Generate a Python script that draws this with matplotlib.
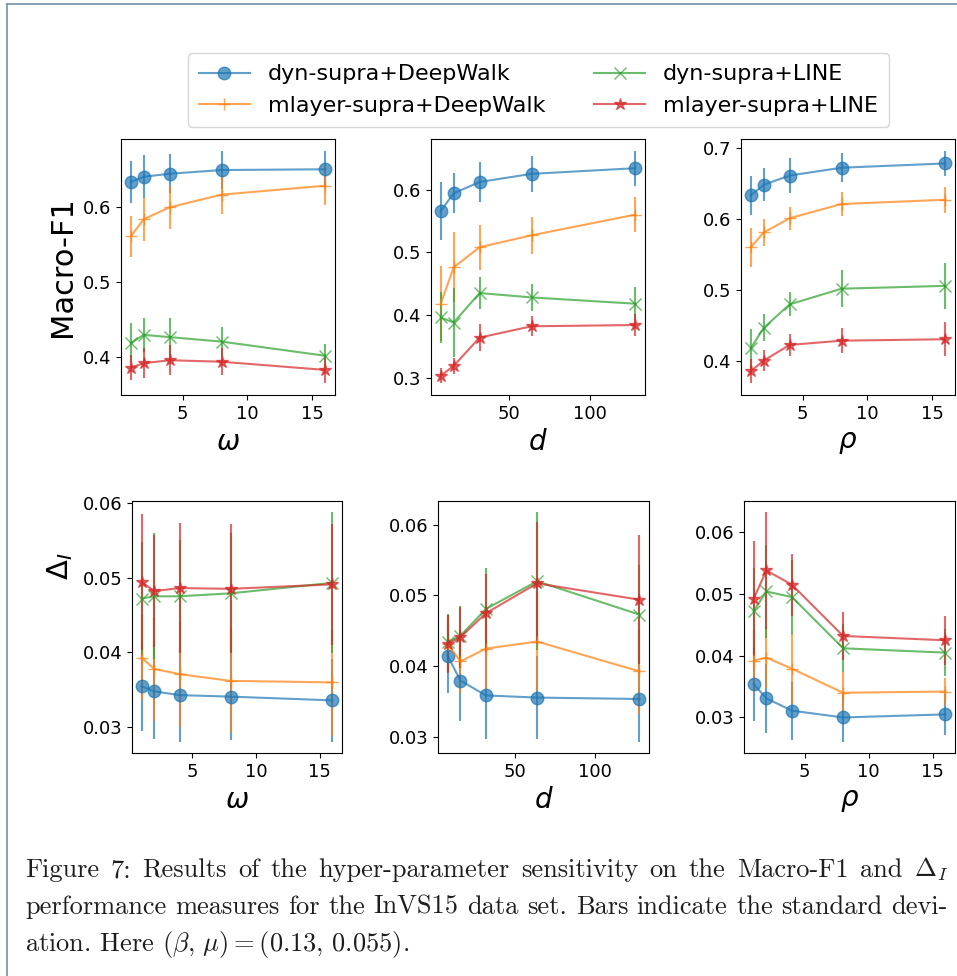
import numpy as np
import matplotlib.pyplot as plt
from matplotlib.lines import Line2D
from matplotlib.ticker import MultipleLocator

# ------------------------------------------------------------
# data
# ------------------------------------------------------------
methods = ["dyn-supra+DeepWalk", "mlayer-supra+DeepWalk", "dyn-supra+LINE", "mlayer-supra+LINE"]
colors = ["tab:blue", "tab:orange", "tab:green", "tab:red"]
markers = ["o", "+", "x", "*"]

omega = [1, 2, 4, 8, 16]
dim = [8, 16, 32, 64, 128]
rho = [1, 2, 4, 8, 16]

# Macro-F1, rows follow `methods`
f1_omega_mean = [
    [0.634, 0.641, 0.645, 0.650, 0.651],
    [0.561, 0.584, 0.600, 0.617, 0.629],
    [0.418, 0.429, 0.426, 0.420, 0.401],
    [0.385, 0.391, 0.395, 0.393, 0.382],
]
f1_omega_std = [
    [0.028, 0.029, 0.026, 0.025, 0.025],
    [0.027, 0.029, 0.029, 0.026, 0.026],
    [0.027, 0.023, 0.025, 0.020, 0.016],
    [0.017, 0.020, 0.020, 0.018, 0.018],
]
f1_dim_mean = [
    [0.566, 0.594, 0.612, 0.625, 0.634],
    [0.418, 0.476, 0.508, 0.527, 0.560],
    [0.396, 0.388, 0.435, 0.428, 0.418],
    [0.303, 0.319, 0.364, 0.382, 0.384],
]
f1_dim_std = [
    [0.046, 0.032, 0.032, 0.029, 0.028],
    [0.060, 0.056, 0.036, 0.030, 0.028],
    [0.041, 0.055, 0.025, 0.022, 0.026],
    [0.012, 0.013, 0.021, 0.016, 0.017],
]
f1_rho_mean = [
    [0.633, 0.648, 0.661, 0.672, 0.678],
    [0.560, 0.581, 0.601, 0.621, 0.627],
    [0.418, 0.447, 0.480, 0.502, 0.506],
    [0.386, 0.401, 0.423, 0.429, 0.431],
]
f1_rho_std = [
    [0.028, 0.023, 0.024, 0.020, 0.018],
    [0.027, 0.019, 0.016, 0.017, 0.018],
    [0.027, 0.019, 0.017, 0.026, 0.032],
    [0.017, 0.015, 0.015, 0.018, 0.024],
]

# Delta_I
di_omega_mean = [
    [0.0355, 0.0348, 0.0343, 0.0341, 0.0336],
    [0.0393, 0.0378, 0.0371, 0.0362, 0.0360],
    [0.0472, 0.0475, 0.0475, 0.0479, 0.0493],
    [0.0494, 0.0482, 0.0486, 0.0485, 0.0491],
]
di_omega_std = [
    [0.0060, 0.0063, 0.0062, 0.0058, 0.0055],
    [0.0057, 0.0070, 0.0070, 0.0070, 0.0071],
    [0.0075, 0.0084, 0.0075, 0.0080, 0.0094],
    [0.0091, 0.0075, 0.0087, 0.0086, 0.0081],
]
di_dim_mean = [
    [0.0415, 0.0380, 0.0359, 0.0356, 0.0354],
    [0.0432, 0.0407, 0.0425, 0.0435, 0.0393],
    [0.0434, 0.0443, 0.0481, 0.0520, 0.0473],
    [0.0432, 0.0441, 0.0475, 0.0517, 0.0494],
]
di_dim_std = [
    [0.0052, 0.0057, 0.0061, 0.0058, 0.0060],
    [0.0040, 0.0045, 0.0060, 0.0070, 0.0060],
    [0.0040, 0.0042, 0.0057, 0.0097, 0.0070],
    [0.0041, 0.0043, 0.0055, 0.0086, 0.0091],
]
di_rho_mean = [
    [0.0354, 0.0331, 0.0311, 0.0300, 0.0305],
    [0.0392, 0.0397, 0.0379, 0.0340, 0.0342],
    [0.0472, 0.0504, 0.0495, 0.0412, 0.0405],
    [0.0492, 0.0538, 0.0515, 0.0432, 0.0425],
]
di_rho_std = [
    [0.0060, 0.0056, 0.0047, 0.0039, 0.0033],
    [0.0050, 0.0050, 0.0057, 0.0033, 0.0022],
    [0.0070, 0.0075, 0.0060, 0.0039, 0.0038],
    [0.0093, 0.0094, 0.0050, 0.0039, 0.0040],
]

caption_1 = ["Figure", "7:", "Results", "of", "the", "hyper-parameter", "sensitivity",
             "on", "the", "Macro-F1", "and", r"$\Delta_I$"]
caption_2 = ["performance", "measures", "for", "the", "InVS15", "data", "set.", "Bars",
             "indicate", "the", "standard", "devi-"]
caption_3 = r"ation. Here $(\beta,\,\mu) = (0.13,\,0.055)$."

# ------------------------------------------------------------
# figure
# ------------------------------------------------------------
W, H = 957, 976
fig = plt.figure(figsize=(W / 100, H / 100), dpi=100)


def px_axes(l, t, r, b):
    return fig.add_axes([l / W, 1 - b / H, (r - l) / W, (b - t) / H])


panels = [
    (px_axes(121, 139, 335, 395), omega, f1_omega_mean, f1_omega_std, r"$\omega$"),
    (px_axes(431, 139, 645, 395), dim, f1_dim_mean, f1_dim_std, r"$d$"),
    (px_axes(741, 139, 955, 395), rho, f1_rho_mean, f1_rho_std, r"$\rho$"),
    (px_axes(132, 501, 342, 753), omega, di_omega_mean, di_omega_std, r"$\omega$"),
    (px_axes(438, 501, 649, 753), dim, di_dim_mean, di_dim_std, r"$d$"),
    (px_axes(744, 501, 955, 753), rho, di_rho_mean, di_rho_std, r"$\rho$"),
]

handles = []
for i, (ax, xs, means, stds, xlab) in enumerate(panels):
    hs = []
    for k in range(len(methods)):
        h = ax.errorbar(xs, means[k], yerr=stds[k], color=colors[k], marker=markers[k],
                        ms=9, alpha=0.7, lw=1.5, label=methods[k])
        hs.append(h[0])
    handles = hs
    if i < 3:
        ax.yaxis.set_major_locator(MultipleLocator(0.1))
    ax.tick_params(labelsize=13)
    ax.set_xlabel(xlab, fontsize=20)

panels[0][0].set_ylabel("Macro-F1", fontsize=22)
panels[3][0].set_ylabel(r"$\Delta_I$", fontsize=21)
panels[3][0].yaxis.set_label_coords(-0.27, 0.74)

fig.legend(handles, methods, ncol=2, fontsize=16, loc="center",
           bbox_to_anchor=(538.5 / W, 1 - 90 / H), columnspacing=2.2,
           handlelength=2.3, borderpad=0.5)

# frame of the page
edge = "#7390ad"
fig.add_artist(Line2D([7.5 / W, 7.5 / W], [1 - 3.5 / H, 0], color=edge, lw=1.2))
fig.add_artist(Line2D([7.5 / W, 1], [1 - 3.5 / H, 1 - 3.5 / H], color=edge, lw=1.2))

# caption, justified like the paper
cap_fs = 19
cap_col = "#1e1e1e"
renderer = fig.canvas.get_renderer()


def justified(words, y_px, x0=25, x1=948):
    ts = [fig.text(0, 1 - y_px / H, w, fontsize=cap_fs, family="cmr10", color=cap_col,
                   math_fontfamily="cm", va="baseline") for w in words]
    ws = [t.get_window_extent(renderer).width for t in ts]
    gap = (x1 - x0 - sum(ws)) / (len(words) - 1)
    x = x0
    for t, w in zip(ts, ws):
        t.set_x(x / W)
        x += w + gap


justified(caption_1, 877)
justified(caption_2, 914)
fig.text(25 / W, 1 - 951 / H, caption_3, fontsize=cap_fs, family="cmr10", color=cap_col,
         math_fontfamily="cm", va="baseline")

fig.savefig("out.png", dpi=100, facecolor="white")
